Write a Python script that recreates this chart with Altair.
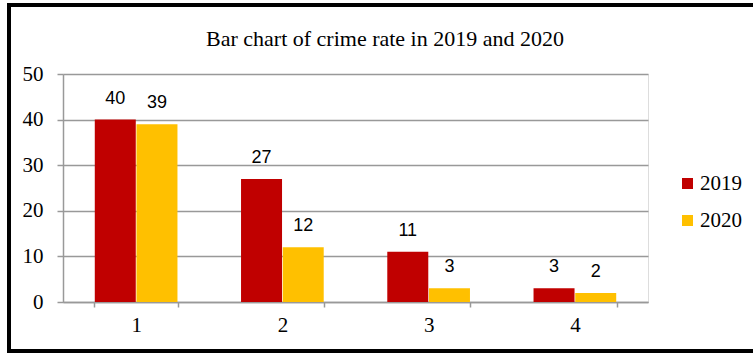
import altair as alt
import pandas as pd

categories = ["1", "2", "3", "4"]
values_2019 = [40, 27, 11, 3]
values_2020 = [39, 12, 3, 2]
years = ["2019", "2020"]
title_text = ["Bar chart of crime rate in 2019 and 2020"]

rows = []
for i, c in enumerate(categories):
    rows.append({"cat": c, "year": "2019", "value": values_2019[i]})
    rows.append({"cat": c, "year": "2020", "value": values_2020[i]})
df = pd.DataFrame(rows)

W, H = 585, 228
serif = "Liberation Serif"

x = alt.X("cat:N", title=None, sort=categories,
          scale=alt.Scale(paddingInner=0.43, paddingOuter=0.215),
          axis=alt.Axis(labelAngle=0, labelFont=serif, labelFontSize=21, labelColor="#000000",
                        labelPadding=7, tickBand="extent", tickSize=5, tickColor="#999999",
                        tickWidth=1.5, domainColor="#999999", domainWidth=1.5, grid=False))
y = alt.Y("value:Q", title=None,
          scale=alt.Scale(domain=[0, 50]),
          axis=alt.Axis(values=[0, 10, 20, 30, 40, 50], labelFont=serif, labelFontSize=21,
                        labelColor="#000000", labelPadding=14, tickSize=6, tickColor="#999999",
                        tickWidth=1.5, domainColor="#999999", domainWidth=1.5,
                        gridColor="#999999", gridWidth=1.5))
color = alt.Color("year:N", sort=years, title=None,
                  scale=alt.Scale(domain=years, range=["#C00000", "#FFC000"]),
                  legend=alt.Legend(orient="none", legendX=614, legendY=99,
                                    symbolType="square", symbolSize=121, symbolStrokeWidth=0,
                                    labelFont=serif, labelFontSize=21, labelColor="#000000",
                                    labelOffset=2, rowPadding=15))

bars = alt.Chart(df).mark_bar(size=41).encode(
    x=x, xOffset=alt.XOffset("year:N", sort=years), y=y, color=color
)
labels = alt.Chart(df).mark_text(font="Liberation Sans", fontSize=18, baseline="alphabetic",
                                 dy=-16, color="#000000").encode(
    x=alt.X("cat:N", sort=categories), xOffset=alt.XOffset("year:N", sort=years),
    y="value:Q", text="value:Q"
)
title = alt.Chart(pd.DataFrame({"t": title_text})).mark_text(
    font=serif, fontSize=22, align="center", baseline="alphabetic", color="#000000"
).encode(x=alt.value(322), y=alt.value(-28), text="t:N")

one = pd.DataFrame({"k": [0]})
border_left = alt.Chart(one).mark_rule(color="#000000", strokeWidth=4, strokeCap="square").encode(
    x=alt.value(-54), y=alt.value(-69), y2=alt.value(277)
)
border_top = alt.Chart(one).mark_rule(color="#000000", strokeWidth=4, strokeCap="square").encode(
    x=alt.value(-54), x2=alt.value(690), y=alt.value(-69)
)
border_bottom = alt.Chart(one).mark_rule(color="#000000", strokeWidth=4, strokeCap="square").encode(
    x=alt.value(-54), x2=alt.value(690), y=alt.value(277)
)

chart = alt.layer(bars, labels, title, border_left, border_top, border_bottom).properties(
    width=W, height=H,
    autosize=alt.AutoSizeParams(type="none"),
    padding={"left": 63, "top": 74, "right": 105, "bottom": 51},
).configure_view(stroke=None).configure(background="#ffffff")

chart.save("out.html", embed_options={"renderer": "svg", "actions": False})
